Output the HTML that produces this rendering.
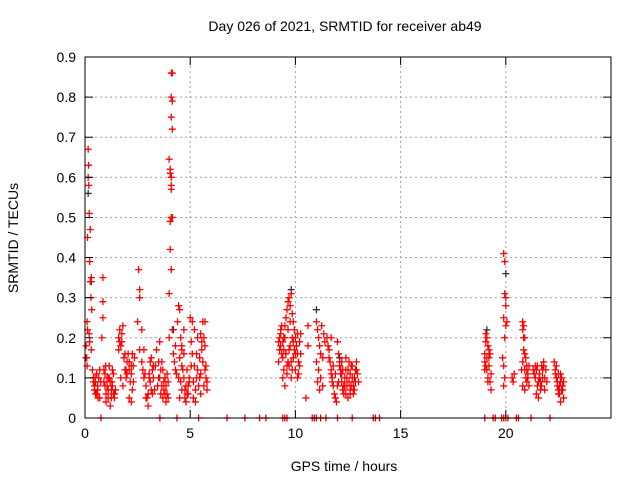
<!DOCTYPE html>
<html><head><meta charset="utf-8"><style>
body{margin:0;background:#fff;}
svg{display:block;font-family:"Liberation Sans",sans-serif;}
</style></head><body>
<svg id="chart" width="640" height="480" viewBox="0 0 640 480" xmlns="http://www.w3.org/2000/svg">
<rect width="640" height="480" fill="#fff"/>
<g id="grid"></g>
<g id="marks"></g>
<rect x="85" y="57" width="526" height="361" fill="none" stroke="#000" stroke-width="1"/>
<g id="ticks"></g>
<text x="345" y="31" font-size="14" text-anchor="middle">Day 026 of 2021, SRMTID for receiver ab49</text>
<text x="344" y="471" font-size="14" text-anchor="middle">GPS time / hours</text>
<text x="18" y="238" font-size="14" text-anchor="middle" transform="rotate(-90 18 238)">SRMTID / TECUs</text>
</svg>
<script>
const xTicks=[0,5,10,15,20];
const yTicks=[0,0.1,0.2,0.3,0.4,0.5,0.6,0.7,0.8,0.9];
const redHours=[0.05,0.08,0.1,0.12,0.15,0.17,0.15,0.18,0.2,0.25,0.12,0.22,0.3,0.25,0.28,0.32,0.2,0.22,0.05,0.1,0.3,0.35,0.4,0.45,0.5,0.5,0.55,0.6,0.65,0.7,
0.85,0.85,0.85,0.8,0.9,0.95,1.0,1.05,1.1,1.15,1.2,1.25,1.3,1.35,1.4,1.45,1.0,1.2,
1.6,1.65,1.7,1.75,1.8,1.85,1.9,1.95,2.0,2.05,2.1,2.15,2.2,2.25,2.3,2.35,1.7,1.8,2.1,2.2,
2.55,2.6,2.6,2.7,2.5,2.6,2.7,2.8,2.9,3.0,3.1,3.2,3.3,2.9,3.05,3.15,3.25,3.0,
3.4,3.5,3.55,3.6,3.65,3.7,3.75,3.8,3.85,3.9,3.95,3.5,3.6,
4.1,4.15,4.1,4.15,4.1,4.15,4.0,4.05,4.05,4.1,4.1,4.1,4.05,4.1,4.15,4.05,4.1,4.0,4.15,4.0,4.3,4.2,4.25,4.3,4.35,
4.45,4.5,4.4,4.55,4.6,4.7,4.5,4.6,4.7,4.8,4.9,4.5,4.6,4.75,4.85,4.95,
5.0,5.1,5.2,5.05,5.1,5.2,5.3,5.4,5.5,5.15,5.25,5.6,5.7,5.65,5.55,5.6,5.7,5.75,5.8,5.5,5.45,5.8,5.35,
9.2,9.25,9.3,9.35,9.4,9.45,9.5,9.55,9.6,9.65,9.7,9.75,9.8,9.85,9.9,9.95,10.0,10.05,10.1,10.15,10.2,10.25,9.4,9.5,9.6,9.7,9.8,9.9,10.0,10.1,9.3,9.45,9.55,9.65,9.75,9.85,9.95,
10.5,10.6,10.6,
11.0,11.05,11.1,11.15,11.2,11.0,11.1,11.2,11.3,11.25,11.35,11.4,11.3,11.05,11.15,
11.5,11.55,11.6,11.65,11.7,11.75,11.8,11.85,11.9,11.95,12.0,12.05,12.1,12.15,12.2,12.25,12.3,12.35,12.4,12.45,12.5,12.55,12.6,12.65,12.7,12.75,12.8,12.85,12.9,12.95,13.0,12.2,11.7,12.4,12.6,
19.0,19.05,19.1,19.15,19.2,19.0,19.1,19.15,19.25,19.3,19.05,19.2,19.3,
19.9,19.95,20.0,19.95,20.0,19.9,20.0,19.95,19.85,19.9,19.95,19.9,20.05,
20.3,20.4,20.35,
20.8,20.85,20.9,20.85,20.8,20.9,20.95,21.0,21.05,20.8,20.9,21.1,20.75,
21.3,21.4,21.5,21.6,21.7,21.8,21.9,21.45,21.55,21.65,21.75,21.85,21.4,
22.3,22.35,22.4,22.45,22.5,22.55,22.6,22.65,22.7,22.75,22.4,22.5,22.6];
const redValues=[0.18,0.15,0.24,0.22,0.67,0.63,0.60,0.58,0.51,0.47,0.45,0.39,0.35,0.34,0.30,0.27,0.21,0.19,0.15,0.13,0.17,0.12,0.10,0.08,0.09,0.06,0.11,0.07,0.10,0.05,
0.35,0.29,0.25,0.20,0.12,0.08,0.06,0.10,0.07,0.13,0.09,0.05,0.08,0.11,0.06,0.07,0.04,0.03,
0.20,0.19,0.18,0.21,0.23,0.15,0.12,0.10,0.14,0.16,0.12,0.09,0.11,0.07,0.13,0.15,0.10,0.08,0.05,0.04,
0.37,0.32,0.30,0.22,0.24,0.17,0.14,0.10,0.08,0.06,0.09,0.12,0.07,0.05,0.11,0.15,0.13,0.03,
0.17,0.14,0.19,0.12,0.08,0.05,0.07,0.10,0.04,0.06,0.09,0.10,0.06,
0.86,0.86,0.80,0.79,0.75,0.72,0.645,0.62,0.61,0.60,0.58,0.57,0.49,0.50,0.50,0.42,0.37,0.31,0.22,0.20,0.18,0.16,0.14,0.12,0.11,
0.28,0.27,0.24,0.20,0.18,0.22,0.15,0.13,0.10,0.08,0.06,0.05,0.07,0.05,0.12,0.09,
0.25,0.24,0.22,0.19,0.16,0.13,0.10,0.08,0.06,0.05,0.04,0.24,0.24,0.20,0.17,0.14,0.12,0.10,0.09,0.11,0.15,0.07,0.20,
0.19,0.17,0.21,0.23,0.15,0.12,0.20,0.25,0.27,0.29,0.30,0.28,0.31,0.26,0.24,0.22,0.20,0.18,0.16,0.14,0.19,0.21,0.10,0.08,0.11,0.13,0.10,0.15,0.12,0.10,0.18,0.20,0.16,0.14,0.18,0.20,0.17,
0.05,0.18,0.23,
0.24,0.22,0.20,0.18,0.16,0.14,0.12,0.10,0.08,0.23,0.21,0.19,0.15,0.09,0.07,
0.20,0.18,0.17,0.14,0.12,0.10,0.08,0.06,0.05,0.04,0.19,0.16,0.13,0.11,0.09,0.07,0.06,0.10,0.12,0.08,0.05,0.09,0.11,0.13,0.10,0.08,0.07,0.12,0.14,0.11,0.09,0.14,0.20,0.15,0.06,
0.16,0.19,0.20,0.18,0.17,0.14,0.12,0.10,0.09,0.11,0.13,0.15,0.07,
0.41,0.39,0.30,0.31,0.28,0.25,0.23,0.20,0.15,0.13,0.10,0.08,0.24,
0.10,0.11,0.09,
0.24,0.23,0.20,0.17,0.14,0.12,0.10,0.09,0.11,0.08,0.07,0.13,0.12,
0.12,0.10,0.08,0.11,0.13,0.14,0.12,0.06,0.05,0.09,0.10,0.07,0.13,
0.14,0.12,0.10,0.08,0.07,0.06,0.09,0.10,0.07,0.05,0.13,0.11,0.04];
const extraHours=[0.4,0.45,0.55,0.6,0.7,0.75,0.62,0.48,0.9,0.95,1.05,1.1,1.15,1.25,1.3,1.35,0.98,1.12,1.28,1.4,
1.6,1.65,1.75,1.9,2.0,2.1,2.2,2.3,1.95,2.25,
2.75,2.85,2.95,3.05,3.15,3.25,2.8,3.1,3.2,3.35,3.45,3.55,3.65,3.75,3.85,3.95,3.7,3.8,3.9,
4.45,4.55,4.65,4.75,4.85,4.95,4.6,4.7,4.8,4.9,5.05,5.15,5.25,5.35,5.45,5.55,5.65,5.75,5.3,5.5,5.7,
9.2,9.25,9.35,9.4,9.5,9.55,9.6,9.7,9.8,9.9,9.65,9.75,9.85,10.0,10.1,10.15,10.25,10.2,9.3,9.45,
11.6,11.7,11.75,11.8,11.9,12.0,12.1,12.2,12.3,12.4,12.5,12.6,12.7,12.8,12.9,12.05,12.25,12.45,12.65,12.85,12.15,12.35,12.55,12.75,
19.05,19.1,19.2,19.25,19.0,19.15,
20.8,20.85,20.95,21.0,21.05,21.1,20.9,21.0,
21.35,21.45,21.55,21.65,21.75,21.85,21.95,21.5,21.6,21.7,21.8,
22.35,22.45,22.55,22.65,22.75,22.5,22.6,22.7];
const extraValues=[0.09,0.07,0.06,0.08,0.12,0.09,0.05,0.1,0.09,0.11,0.08,0.05,0.1,0.07,0.12,0.06,0.13,0.1,0.09,0.05,
0.17,0.22,0.19,0.16,0.11,0.14,0.13,0.09,0.12,0.16,
0.12,0.11,0.05,0.1,0.07,0.1,0.17,0.14,0.06,0.13,0.08,0.1,0.14,0.09,0.08,0.05,0.12,0.06,0.11,
0.1,0.09,0.12,0.07,0.06,0.1,0.17,0.16,0.04,0.08,0.13,0.09,0.07,0.12,0.1,0.19,0.08,0.13,0.16,0.21,0.18,
0.14,0.2,0.16,0.19,0.23,0.16,0.13,0.17,0.14,0.19,0.22,0.24,0.12,0.16,0.21,0.11,0.16,0.13,0.22,0.17,
0.15,0.11,0.09,0.13,0.11,0.08,0.14,0.11,0.08,0.06,0.12,0.07,0.13,0.1,0.12,0.09,0.12,0.1,0.08,0.09,0.12,0.08,0.14,0.06,
0.21,0.15,0.13,0.16,0.12,0.09,
0.22,0.2,0.15,0.12,0.1,0.08,0.16,0.13,
0.11,0.12,0.09,0.07,0.12,0.1,0.09,0.13,0.1,0.08,0.13,
0.11,0.09,0.08,0.07,0.09,0.06,0.11,0.08];
const zeroHours=[0.76,3.56,4.37,5.4,6.75,7.6,8.3,8.6,9.4,9.5,9.6,10.8,10.9,11.0,11.2,11.45,12.0,12.7,13.7,13.8,14.0,19.0,19.4,19.5,19.8,19.9,20.0,20.1,20.5,20.6,21.2,22.1];
const zeroValues=[0,0,0,0,0,0,0,0,0,0,0,0,0,0,0,0,0,0,0,0,0,0,0,0,0,0,0,0,0,0,0,0];
const darkHours=[0.15,0.3,4.2,9.8,11.0,20.0,19.1,12.1];
const darkValues=[0.56,0.34,0.22,0.32,0.27,0.36,0.22,0.15];

const X0=85,X1=611,Y0=418,Y1=57,XMAX=25,YMAX=0.9;
const sx=h=>X0+h/XMAX*(X1-X0);
const sy=v=>Y0-v/YMAX*(Y0-Y1);
const NS="http://www.w3.org/2000/svg";
const grid=document.getElementById('grid'),ticks=document.getElementById('ticks'),marks=document.getElementById('marks');
function mk(tag,attrs,parent){const e=document.createElementNS(NS,tag);for(const k in attrs)e.setAttribute(k,attrs[k]);parent.appendChild(e);return e;}
xTicks.forEach(t=>{
  const x=sx(t);
  if(t>0){const g=mk('line',{x1:x,y1:Y0,x2:x,y2:Y1,stroke:'#a0a0a0','stroke-dasharray':'2,3'},grid);
  
  }
  const tk=mk('path',{d:`M${x},${Y0}v-8M${x},${Y1}v8`,stroke:'#000'},ticks);
  
  
  const lb=mk('text',{x:x,y:Y0+20,'font-size':14,'text-anchor':'middle'},ticks);lb.textContent=t;
  
  
});
yTicks.forEach(t=>{
  const y=sy(t);
  if(t>0&&t<0.9){const g=mk('line',{x1:X0,y1:y,x2:X1,y2:y,stroke:'#a0a0a0','stroke-dasharray':'2,3'},grid);
  
  }
  const tk=mk('path',{d:`M${X0},${y}h8M${X1},${y}h-8`,stroke:'#000'},ticks);
  
  
  const lb=mk('text',{x:X0-9,y:y+5,'font-size':14,'text-anchor':'end'},ticks);lb.textContent=(t===0?'0':t.toFixed(1));
  
  
});
function plus(h,v,color,name){
  const x=sx(h),y=sy(v);
  const p=mk('path',{d:`M${x-3.5},${y}h7M${x},${y-3.5}v7`,stroke:color,'stroke-width':1.3},marks);
  
  
}
darkHours.forEach((h,i)=>plus(h,darkValues[i],'#303030','dark-point'));
redHours.forEach((h,i)=>plus(h,redValues[i],'#ff0000','srmtid-point'));
extraHours.forEach((h,i)=>plus(h,extraValues[i],'#ff0000','srmtid-point'));
zeroHours.forEach((h,i)=>plus(h,zeroValues[i],'#ff0000','zero-point'));
</script>
</body></html>
